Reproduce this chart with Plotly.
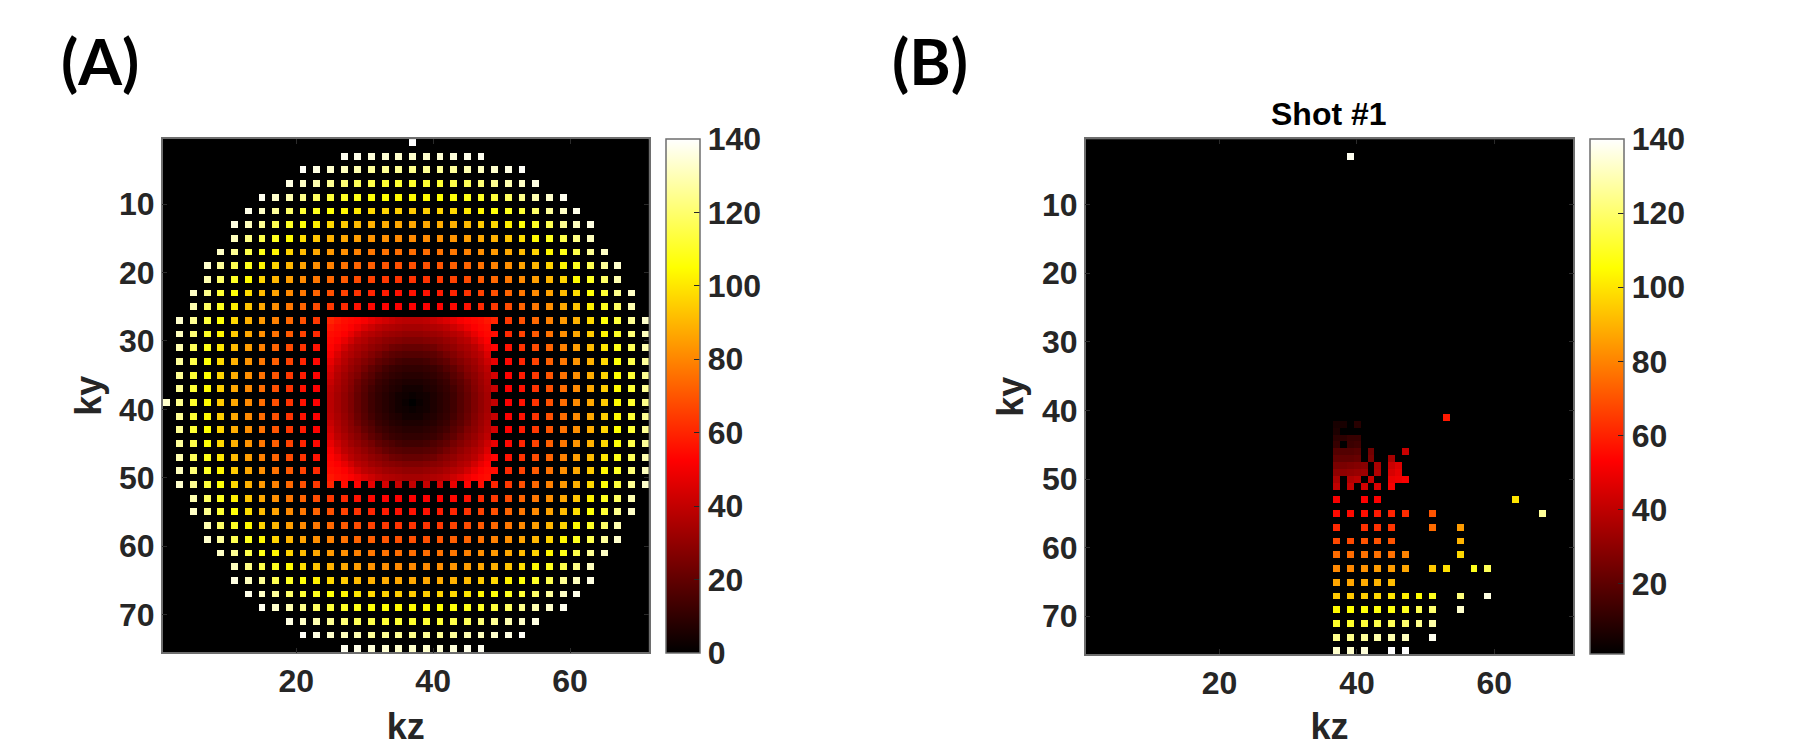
import plotly.graph_objects as go

W, H = 1799, 747
N_ROWS, N_COLS = 75, 71
CENTER_ROW, CENTER_COL = 39, 37

# a row holds values every 2nd column going out from the centre; a row is every 2nd line from the centre.
lattice_q = [
    [0, 4, 8, 13, 21, 30, 40, 52, 56, 63, 69, 75, 81, 87, 94, 104, 111, 124, 133],
    [4, 6, 9, 14, 22, 31, 41, 52, 56, 63, 69, 75, 81, 87, 95, 104, 112, 125],
    [8, 9, 12, 18, 25, 34, 44, 53, 58, 64, 70, 76, 82, 88, 96, 105, 112, 125],
    [13, 14, 18, 24, 30, 38, 48, 54, 60, 66, 72, 77, 83, 89, 97, 106, 115, 126],
    [21, 22, 25, 30, 37, 45, 53, 56, 63, 68, 73, 79, 85, 91, 100, 108, 117, 129],
    [30, 31, 34, 38, 45, 52, 55, 61, 66, 71, 76, 82, 87, 94, 103, 110, 121, 131],
    [40, 41, 44, 48, 53, 55, 60, 64, 69, 74, 79, 84, 89, 97, 106, 113, 125, 133],
    [52, 52, 53, 54, 56, 61, 64, 68, 73, 77, 82, 87, 93, 102, 109, 118, 129],
    [56, 56, 58, 60, 63, 66, 69, 73, 77, 81, 86, 91, 98, 106, 112, 124, 132],
    [63, 63, 64, 66, 68, 71, 74, 77, 81, 85, 90, 96, 104, 110, 119, 129],
    [69, 69, 70, 72, 73, 76, 79, 82, 86, 90, 96, 103, 109, 116, 126, 133],
    [75, 75, 76, 77, 79, 82, 84, 87, 91, 96, 103, 108, 115, 125, 132],
    [81, 81, 82, 83, 85, 87, 89, 93, 98, 104, 109, 115, 123, 131],
    [87, 87, 88, 89, 91, 94, 97, 102, 106, 110, 116, 125, 131, 136],
    [94, 95, 96, 97, 100, 103, 106, 109, 112, 119, 126, 132, 137],
    [104, 104, 105, 106, 108, 110, 113, 118, 124, 129, 133, 138],
    [111, 112, 112, 115, 117, 121, 125, 129, 132, 136],
    [124, 125, 125, 126, 129, 131, 133, 136, 139],
    [133, 133, 134, 135, 137, 138],
    [140],
]

# Panel A: fully sampled central block, one quadrant, 1 step per cell from the centre.
block_q = [
    [0, 2, 4, 6, 8, 10, 13, 17, 21, 26, 30, 34, 38],
    [2, 3, 4, 6, 8, 10, 13, 17, 21, 26, 30, 34, 38],
    [4, 4, 6, 7, 9, 11, 14, 18, 22, 27, 31, 35, 39],
    [6, 6, 7, 8, 10, 12, 16, 19, 23, 28, 32, 36, 41],
    [8, 8, 9, 10, 12, 14, 18, 21, 26, 29, 33, 37, 43],
    [10, 10, 11, 12, 14, 17, 20, 24, 28, 31, 35, 39, 45],
    [13, 13, 14, 16, 18, 20, 24, 27, 30, 33, 37, 42, 48],
    [17, 17, 18, 19, 21, 24, 27, 30, 33, 36, 39, 45, 51],
    [21, 21, 22, 23, 26, 28, 30, 33, 35, 38, 43, 49, 53],
    [26, 26, 27, 28, 29, 31, 33, 36, 38, 43, 48, 52, 54],
    [30, 30, 31, 32, 33, 35, 37, 39, 43, 48, 52, 54, 55],
    [34, 34, 35, 36, 37, 39, 42, 45, 49, 52, 54, 55, 57],
    [38, 38, 39, 41, 43, 45, 48, 51, 53, 54, 55, 57, 60],
]
block_rows = (27, 50)
block_cols = (25, 48)

# Panel B: samples of shot #1.
shot_rows = [3, 41, 42, 43, 44, 45, 46, 47, 48, 49, 50, 51, 53, 55, 57, 59, 61, 63, 65, 67, 69, 71, 73, 75]
shot_cols = [
    [39], [53], [37, 38, 40], [37], [37, 38, 39, 40], [37, 39, 40],
    [37, 38, 39, 40, 42, 47], [37, 38, 39, 40, 42, 45],
    [37, 38, 39, 40, 41, 43, 45, 46], [37, 38, 39, 40, 41, 43, 45, 46],
    [37, 39, 40, 42, 45, 46, 47], [37, 39, 41, 43, 45], [37, 41, 43, 63],
    [37, 39, 41, 43, 45, 47, 51, 67], [37, 41, 43, 45, 51, 55],
    [37, 39, 41, 43, 45, 55], [37, 39, 41, 43, 45, 47, 55],
    [37, 39, 41, 43, 45, 47, 51, 53, 57, 59], [37, 39, 41, 43, 45],
    [37, 39, 41, 43, 45, 47, 49, 51, 55, 59], [37, 39, 41, 43, 45, 47, 49, 51, 55],
    [37, 39, 41, 43, 45, 47, 49, 51], [37, 39, 41, 43, 45, 47, 51], [37, 39, 41, 45, 47],
]
shot_vals = [
    [138], [58], [6, 6, 9], [7], [10, 10, 12, 12], [12, 13, 14],
    [18, 18, 18, 19, 24, 42], [21, 21, 21, 22, 26, 35],
    [26, 26, 27, 28, 29, 36, 42, 46], [30, 30, 31, 32, 33, 37, 45, 48],
    [36, 37, 39, 42, 49, 50, 52], [40, 41, 44, 46, 52], [52, 53, 53, 100],
    [55, 55, 56, 58, 60, 62, 70, 126], [61, 63, 63, 64, 75, 85],
    [68, 68, 70, 70, 70, 90], [75, 75, 76, 76, 76, 80, 97],
    [81, 81, 83, 85, 85, 87, 94, 99, 109, 117], [87, 87, 88, 90, 92],
    [94, 94, 95, 97, 100, 102, 105, 109, 122, 136], [104, 105, 106, 107, 107, 109, 116, 120, 133],
    [111, 111, 113, 115, 117, 120, 124, 128], [124, 124, 126, 128, 129, 131, 138],
    [133, 133, 135, 140, 140],
]

x_ticks = [20, 40, 60]
y_ticks = [10, 20, 30, 40, 50, 60, 70]
cbar_ticks_a = [0, 20, 40, 60, 80, 100, 120, 140]
cbar_ticks_b = [20, 40, 60, 80, 100, 120, 140]

INK = "#262626"
EDGE = "#6e6e6e"
FONT = "Liberation Sans"
TICK_SIZE = 32

hot = [
    [0.0, "#000000"], [0.375, "#ff0000"], [0.75, "#ffff00"], [1.0, "#ffffff"],
]

# Assemble the panel A image from the read-off tables.
image_a = [[0] * N_COLS for _ in range(N_ROWS)]
for r in range(1, N_ROWS + 1):
    for c in range(1, N_COLS + 1):
        dy, dx = abs(r - CENTER_ROW), abs(c - CENTER_COL)
        if block_rows[0] <= r <= block_rows[1] and block_cols[0] <= c <= block_cols[1]:
            image_a[r - 1][c - 1] = block_q[dy][dx]
        elif r % 2 and c % 2 and dy // 2 < len(lattice_q) and dx // 2 < len(lattice_q[dy // 2]):
            image_a[r - 1][c - 1] = lattice_q[dy // 2][dx // 2]

image_b = [[0] * N_COLS for _ in range(N_ROWS)]
for r, cols, vals in zip(shot_rows, shot_cols, shot_vals):
    for c, v in zip(cols, vals):
        image_b[r - 1][c - 1] = v

cols_axis = list(range(1, N_COLS + 1))
rows_axis = list(range(1, N_ROWS + 1))


def cbar(left_px, top_px, bottom_px, ticks):
    return dict(
        x=left_px / W, xanchor="left", xpad=0,
        y=1 - bottom_px / H, yanchor="bottom", ypad=0,
        len=(bottom_px - top_px) / H, lenmode="fraction",
        thickness=33.5, thicknessmode="pixels",
        outlinecolor=EDGE, outlinewidth=1.5,
        tickmode="array", tickvals=ticks, ticktext=[str(t) for t in ticks],
        ticks="inside", ticklen=6, tickcolor=INK, tickwidth=1,
        tickfont=dict(family=FONT, size=TICK_SIZE, color=INK, weight="bold"),
    )


fig = go.Figure()
fig.add_trace(go.Heatmap(
    z=image_a, x=cols_axis, y=rows_axis, xaxis="x", yaxis="y",
    colorscale=hot, zmin=0, zmax=140, zsmooth=False, hoverongaps=False,
    colorbar=cbar(665.7, 139, 653, cbar_ticks_a),
))
fig.add_trace(go.Heatmap(
    z=image_b, x=cols_axis, y=rows_axis, xaxis="x2", yaxis="y2",
    colorscale=hot, zmin=1, zmax=140, zsmooth=False, hoverongaps=False,
    colorbar=cbar(1590, 139.3, 654, cbar_ticks_b),
))


def axis(title, ticks, rng, dom, anchor, standoff):
    return dict(
        domain=dom, range=rng, anchor=anchor, tickmode="array", tickvals=ticks,
        ticktext=[str(t) for t in ticks], ticks="inside", ticklen=5, tickcolor="#2a2a2a",
        tickwidth=1, showline=True, linecolor=EDGE, linewidth=1.5, mirror="ticks",
        showgrid=False, zeroline=False,
        tickfont=dict(family=FONT, size=TICK_SIZE, color=INK, weight="bold"),
        title=dict(text=title, standoff=standoff,
                   font=dict(family=FONT, size=36, color=INK, weight="bold")),
    )


x_range = [0.5, N_COLS + 0.5]
y_range = [N_ROWS + 0.5, 0.5]
fig.update_layout(
    width=W, height=H, margin=dict(l=0, r=0, t=0, b=0), autosize=False,
    paper_bgcolor="white", plot_bgcolor="black", showlegend=False,
    xaxis=axis("kz", x_ticks, x_range, [162.7 / W, 648.8 / W], "y", 16),
    yaxis=axis("ky", y_ticks, y_range, [1 - 652.3 / H, 1 - 139.1 / H], "x", 6),
    xaxis2=axis("kz", x_ticks, x_range, [1085.7 / W, 1573.3 / W], "y2", 16),
    yaxis2=axis("ky", y_ticks, y_range, [1 - 654 / H, 1 - 139.3 / H], "x2", 7),
    annotations=[
        dict(text="(A)", x=100 / W, y=1 - 60 / H, xref="paper", yref="paper", showarrow=False,
             xanchor="center", yanchor="middle",
             font=dict(family="Lato", size=63, color="black", weight="bold")),
        dict(text="(B)", x=930 / W, y=1 - 60 / H, xref="paper", yref="paper", showarrow=False,
             xanchor="center", yanchor="middle",
             font=dict(family="Lato", size=63, color="black", weight="bold")),
        dict(text="Shot #1", x=1329 / W, y=1 - 114 / H, xref="paper", yref="paper", showarrow=False,
             xanchor="center", yanchor="middle",
             font=dict(family=FONT, size=32, color="black", weight="bold")),
    ],
)

fig.write_html("out.html", post_script="document.body.style.margin='0';",
               config={"displayModeBar": False})
